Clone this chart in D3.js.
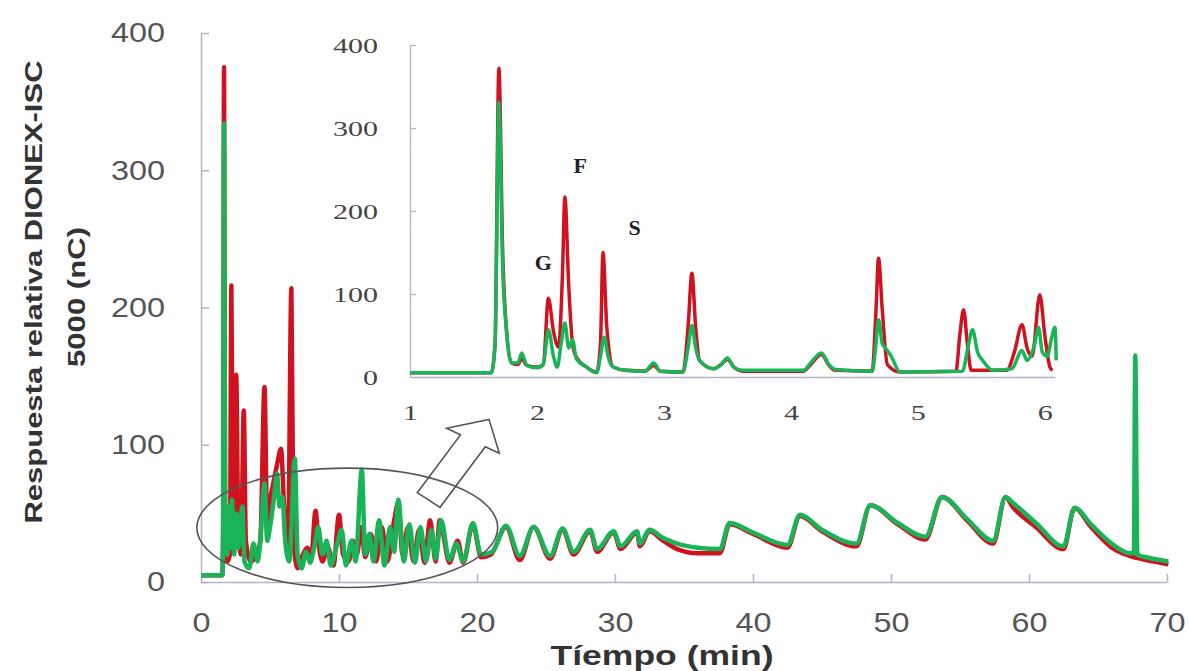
<!DOCTYPE html>
<html>
<head>
<meta charset="utf-8">
<script src="https://cdn.jsdelivr.net/npm/d3@7"></script>
<style>
  body { margin: 0; background: #fff; }
</style>
</head>
<body>
<div id="chart"></div>
<script>
// main chromatogram, [time (min), response (nC)]
const mainRed = [[0,5],[1.55,5],[1.6,30],[1.67,375],[1.75,30],[1.9,15],[2.1,20],[2.2,216],[2.3,60],[2.45,30],[2.55,151],[2.7,40],[2.9,20],[3.1,125],[3.25,30],[3.6,15],[4.0,20],[4.3,30],[4.6,142],[4.8,40],[5.0,60],[5.2,70],[5.5,85],[5.8,97],[6.0,60],[6.3,20],[6.55,214],[6.7,30],[7.0,10],[7.3,18],[7.7,25],[8.0,20],[8.3,52],[8.5,30],[8.8,15],[9.2,25],[9.6,12],[10.0,49],[10.3,20],[10.7,15],[11.0,30],[11.3,20],[11.6,40],[11.9,18],[12.3,35],[12.7,15],[13.1,40],[13.5,15],[14.0,45],[14.3,58],[14.6,20],[15.0,40],[15.4,15],[15.8,38],[16.2,14],[16.6,45],[17.0,15],[17.3,45],[18.0,14],[18.6,30],[19.0,14],[19.7,42],[20.3,18],[21.0,20],[22.1,40],[23.1,16],[24.1,40],[25.3,17],[26.2,38],[27.0,20],[28.2,37],[28.7,22],[29.9,36],[30.4,24],[31.6,36],[31.8,26],[32.5,37],[33.5,30],[34.5,24],[36,21],[37.6,21],[38.3,42],[40,35],[42.5,25],[43.4,48],[45,37],[47.5,26],[48.5,56],[50.5,42],[52.5,31],[53.7,62],[55.5,45],[57.4,28],[58.3,62],[58.8,55],[60.5,40],[62.5,24],[63.3,54],[64.5,40],[66,25],[67.3,19],[68.5,16],[70.1,13]]
const mainGreen = [[0,5],[1.55,5],[1.6,40],[1.67,334],[1.75,40],[1.9,20],[2.05,55],[2.15,25],[2.25,60],[2.4,20],[2.55,50],[2.7,25],[3.0,55],[3.15,15],[3.5,10],[3.8,28],[4.1,15],[4.3,30],[4.6,72],[4.8,30],[5.0,40],[5.3,62],[5.5,79],[5.7,55],[5.9,62],[6.1,30],[6.4,15],[6.8,90],[7.0,20],[7.3,10],[7.6,22],[7.9,14],[8.2,25],[8.5,40],[8.8,20],[9.1,30],[9.4,12],[9.8,25],[10.2,38],[10.5,12],[10.9,30],[11.2,15],[11.65,82],[11.9,20],[12.2,35],[12.5,15],[12.9,45],[13.3,12],[13.7,40],[14.0,22],[14.3,60],[14.7,15],[15.1,42],[15.5,14],[15.9,40],[16.3,15],[16.7,38],[17.0,17],[17.4,45],[18.0,16],[18.5,28],[19.0,15],[19.7,43],[20.3,20],[21.1,22],[22.1,41],[23.1,19],[24.1,40],[25.3,19],[26.2,39],[27.0,22],[28.2,38],[28.7,24],[29.9,37],[30.4,26],[31.6,37],[31.8,28],[32.5,38],[33.5,32],[34.5,28],[36,25],[37.6,24],[38.3,43],[40,36],[42.5,27],[43.4,49],[45,38],[47.5,28],[48.5,56],[50.5,43],[52.5,33],[53.7,62],[55.5,46],[57.4,30],[58.3,62],[58.8,58],[60.5,43],[62.5,26],[63.3,54],[64.5,42],[66,28],[67.3,21],[67.6,21],[67.7,165],[67.85,20],[68.5,18],[70.1,15]]

// inset (zoom of the first minutes)
const insetRed = [[1,5],[1.64,5],[1.67,40],[1.7,372],[1.73,150],[1.76,56],[1.8,17],[1.85,15],[1.88,22],[1.92,14],[2.0,12],[2.05,15],[2.09,95],[2.13,55],[2.17,36],[2.2,120],[2.22,217],[2.25,110],[2.28,40],[2.31,24],[2.39,12],[2.47,6],[2.5,40],[2.52,150],[2.55,60],[2.6,12],[2.7,8],[2.85,7],[2.92,14],[2.97,7],[3.15,6],[3.19,60],[3.22,125],[3.25,60],[3.28,20],[3.39,10],[3.45,15],[3.5,21],[3.55,12],[3.62,7],[4.1,7],[4.15,14],[4.24,27],[4.3,14],[4.35,8],[4.64,7],[4.67,80],[4.69,143],[4.72,80],[4.76,15],[4.86,6],[5.3,7],[5.33,50],[5.36,81],[5.39,40],[5.42,8],[5.7,8],[5.76,30],[5.82,63],[5.86,35],[5.9,25],[5.96,99],[6.0,50],[6.04,12],[6.06,8]]
const insetGreen = [[1,5],[1.64,5],[1.67,40],[1.7,331],[1.73,130],[1.76,56],[1.8,17],[1.85,17],[1.88,29],[1.92,14],[2.0,11],[2.05,15],[2.09,57],[2.13,25],[2.16,12],[2.19,40],[2.22,65],[2.25,35],[2.28,45],[2.31,22],[2.39,12],[2.47,5],[2.5,25],[2.53,48],[2.56,25],[2.6,12],[2.7,8],[2.85,7],[2.92,17],[2.97,7],[3.15,6],[3.19,35],[3.22,62],[3.25,35],[3.28,20],[3.39,10],[3.45,15],[3.5,23],[3.55,12],[3.62,8],[4.1,8],[4.15,16],[4.24,29],[4.3,15],[4.35,9],[4.64,7],[4.67,40],[4.69,69],[4.72,40],[4.76,32],[4.79,25],[4.86,6],[5.35,7],[5.4,40],[5.43,57],[5.47,30],[5.51,20],[5.59,8],[5.74,10],[5.82,32],[5.86,20],[5.92,40],[5.95,60],[5.98,30],[6.02,25],[6.05,45],[6.08,60],[6.09,20]]

const mainXTicks = [0, 10, 20, 30, 40, 50, 60, 70]
const mainYTicks = [0, 100, 200, 300, 400]
const insetXTicks = [1, 2, 3, 4, 5, 6]
const insetYTicks = [0, 100, 200, 300, 400]

// peak labels in inset units
const peakLabels = [
    { text: "G", t: 2.05, v: 138 },
    { text: "F", t: 2.34, v: 255 },
    { text: "S", t: 2.77, v: 180 }
]

// zoom ellipse + block arrow, in main chart units
const zoomEllipse = { t: 10.6, v: 39.5, rt: 10.9, rv: 43.5 }
const arrowShape = [[15.67,65.1],[18.8,107.2],[17.8,112.0],[20.87,118.5],[21.62,93.8],[20.6,98.6],[17.32,54.4]]

const RED = "#d0121f"
const GREEN = "#19b457"
const AXIS = "#b4b4c4"

const svg = d3.select("#chart").append("svg")
    .attr("width", 1189)
    .attr("height", 671)
    .style("font-family", "'Liberation Sans', Arial, sans-serif")

svg.append("rect").attr("width", 1189).attr("height", 671).attr("fill", "#fff")

// ---- main plot
const x = d3.scaleLinear().domain([0, 70]).range([201, 1167])
const y = d3.scaleLinear().domain([0, 400]).range([582, 33])

const yAxis = svg.append("g")
    .attr("transform", "translate(201,0)")
    .call(d3.axisLeft(y).tickValues(mainYTicks).tickSize(-8).tickSizeOuter(0).tickPadding(36))
const xAxis = svg.append("g")
    .attr("transform", "translate(0,582)")
    .call(d3.axisBottom(x).tickValues(mainXTicks).tickSize(-8).tickSizeOuter(0).tickPadding(30))

for (const ax of [xAxis, yAxis]) {
    ax.selectAll("path, line").attr("stroke", AXIS).attr("stroke-width", 1.5)
    ax.selectAll("text")
        .attr("font-size", 28)
        .attr("font-family", "'Liberation Sans', Arial, sans-serif")
        .attr("fill", "#555")
        .attr("textLength", d => String(d).length * 18)
        .attr("lengthAdjust", "spacingAndGlyphs")
}
xAxis.selectAll(".tick").filter(d => d === 0).select("line").remove()

const line = (sx, sy) => d3.line().x(d => sx(d[0])).y(d => sy(d[1])).curve(d3.curveMonotoneX)

svg.append("path").datum(mainRed)
    .attr("d", line(x, y))
    .attr("fill", "none").attr("stroke", RED).attr("stroke-width", 4.5).attr("stroke-linejoin", "round")
svg.append("path").datum(mainGreen)
    .attr("d", line(x, y))
    .attr("fill", "none").attr("stroke", GREEN).attr("stroke-width", 4.5).attr("stroke-linejoin", "round")

// ellipse and arrow
svg.append("ellipse")
    .attr("cx", x(zoomEllipse.t))
    .attr("cy", y(zoomEllipse.v))
    .attr("rx", x(zoomEllipse.rt) - x(0))
    .attr("ry", y(0) - y(zoomEllipse.rv))
    .attr("fill", "none").attr("stroke", "#555").attr("stroke-width", 1.6)

svg.append("path").datum(arrowShape)
    .attr("d", d3.line().x(d => x(d[0])).y(d => y(d[1])).curve(d3.curveLinearClosed))
    .attr("fill", "none").attr("stroke", "#555").attr("stroke-width", 1.6).attr("stroke-linejoin", "miter")

// axis titles
svg.append("text")
    .attr("x", 662).attr("y", 665)
    .attr("text-anchor", "middle")
    .attr("font-size", 28).attr("font-weight", "bold").attr("fill", "#333")
    .attr("textLength", 223).attr("lengthAdjust", "spacingAndGlyphs")
    .text("Tíempo (min)")

const yTitle = svg.append("g").attr("transform", "rotate(-90)")
yTitle.append("text")
    .attr("x", -292).attr("y", 42)
    .attr("text-anchor", "middle")
    .attr("font-size", 24).attr("font-weight", "bold").attr("fill", "#333")
    .attr("textLength", 463).attr("lengthAdjust", "spacingAndGlyphs")
    .text("Respuesta  relativa  DIONEX-ISC")
yTitle.append("text")
    .attr("x", -297).attr("y", 85)
    .attr("text-anchor", "middle")
    .attr("font-size", 24).attr("font-weight", "bold").attr("fill", "#333")
    .attr("textLength", 140).attr("lengthAdjust", "spacingAndGlyphs")
    .text("5000 (nC)")

// ---- inset
const xi = d3.scaleLinear().domain([1, 6.08]).range([410, 1055])
const yi = d3.scaleLinear().domain([0, 400]).range([377, 45])

const iyAxis = svg.append("g")
    .attr("transform", "translate(410,0)")
    .call(d3.axisLeft(yi).tickValues(insetYTicks).tickSize(-6).tickSizeOuter(0).tickPadding(32))
const ixAxis = svg.append("g")
    .attr("transform", "translate(0,377)")
    .call(d3.axisBottom(xi).tickValues(insetXTicks).tickFormat(d3.format("d")).tickSize(0).tickSizeOuter(0).tickPadding(27))

for (const ax of [ixAxis, iyAxis]) {
    ax.selectAll("path, line").attr("stroke", AXIS).attr("stroke-width", 1.3)
    ax.selectAll("text")
        .attr("font-size", 22)
        .attr("font-family", "'Liberation Serif', 'Times New Roman', serif")
        .attr("fill", "#444")
        .attr("textLength", d => String(d).length * 15)
        .attr("lengthAdjust", "spacingAndGlyphs")
}
iyAxis.selectAll(".tick").filter(d => d === 0).select("line").remove()

svg.append("path").datum(insetRed)
    .attr("d", line(xi, yi))
    .attr("fill", "none").attr("stroke", RED).attr("stroke-width", 3.5).attr("stroke-linejoin", "round")
svg.append("path").datum(insetGreen)
    .attr("d", line(xi, yi))
    .attr("fill", "none").attr("stroke", GREEN).attr("stroke-width", 3.5).attr("stroke-linejoin", "round")

svg.selectAll(".peak").data(peakLabels).enter().append("text")
    .attr("class", "peak")
    .attr("x", d => xi(d.t))
    .attr("y", d => yi(d.v))
    .attr("dy", "0.35em")
    .attr("text-anchor", "middle")
    .attr("font-family", "'Liberation Serif', 'Times New Roman', serif")
    .attr("font-weight", "bold")
    .attr("font-size", 22)
    .attr("fill", "#222")
    .text(d => d.text)
</script>
</body>
</html>
